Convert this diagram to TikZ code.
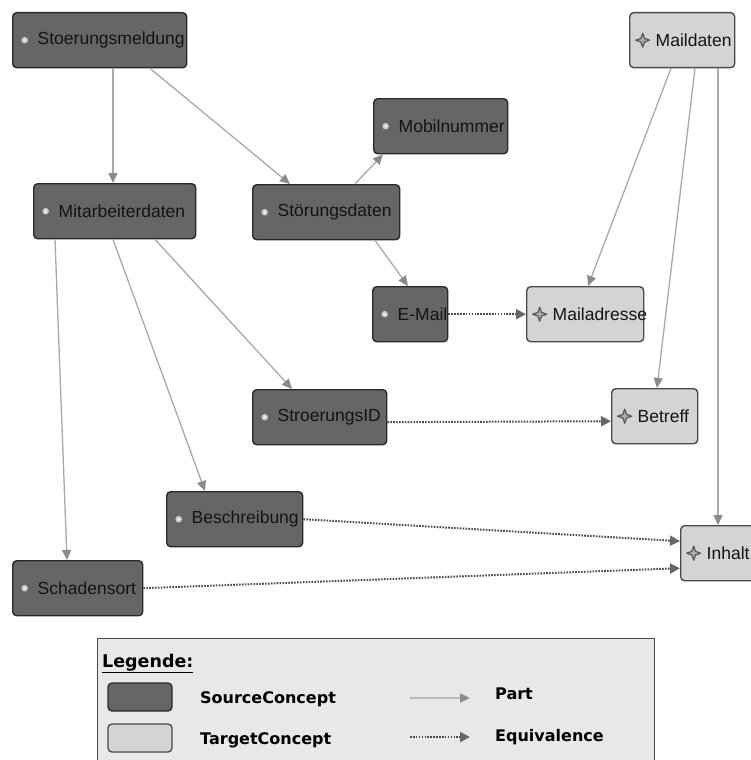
\documentclass[tikz,border=0pt]{standalone}
\usepackage{fontspec}
\setmainfont{Liberation Sans}
\newfontfamily\legendfont{DejaVu Sans}
\usetikzlibrary{arrows.meta,calc}

\definecolor{srcfill}{HTML}{666666}
\definecolor{srcedge}{HTML}{2A2A2A}
\definecolor{tgtfill}{HTML}{D4D4D4}
\definecolor{tgtedge}{HTML}{4A4A4A}
\definecolor{partline}{HTML}{A9A9A9}
\definecolor{parttip}{HTML}{8A8A8A}
\definecolor{equivline}{HTML}{4C4C4C}
\definecolor{legendfill}{HTML}{E8E8E8}
\definecolor{labeltext}{HTML}{141414}

\tikzset{
  concept/.style={anchor=north west, rounded corners=4pt, line width=1.4pt,
    minimum height=55pt, inner xsep=25pt, inner ysep=0pt, align=left,
    font=\fontsize{17.5}{19}\selectfont, text=labeltext},
  source/.style={concept, fill=srcfill, draw=srcedge,
    path picture={
      \fill[white!65!srcfill] ([xshift=12pt]path picture bounding box.west) circle (3.3pt);
      \fill[white!90!srcfill] ([xshift=12pt]path picture bounding box.west) circle (1.6pt);
    }},
  % four-pointed star marking a target concept
  target/.style={concept, fill=tgtfill, draw=tgtedge,
    path picture={
      \coordinate (starc) at ([xshift=13pt]path picture bounding box.west);
      \draw[tgtedge!90!white, line width=1.3pt, line join=round, sharp corners,
            fill=tgtfill!55!gray]
        ([xshift=7pt]starc) -- ([xshift=1.8pt,yshift=1.8pt]starc)
        -- ([yshift=7pt]starc) -- ([xshift=-1.8pt,yshift=1.8pt]starc)
        -- ([xshift=-7pt]starc) -- ([xshift=-1.8pt,yshift=-1.8pt]starc)
        -- ([yshift=-7pt]starc) -- ([xshift=1.8pt,yshift=-1.8pt]starc) -- cycle;
    }},
  part/.style={draw=partline, line width=1.3pt,
    -{Triangle[length=10pt,width=9pt,color=parttip]}},
  equiv/.style={draw=equivline, line width=2pt, dash pattern=on 1.6pt off 1.3pt,
    -{Triangle[length=10pt,width=10pt,color=equivline!85!white]}},
  legendtext/.style={font=\legendfont\bfseries\fontsize{16}{18}\selectfont,
    text=black, inner sep=0pt},
  swatch/.style={rounded corners=4pt, line width=1.3pt,
    minimum width=64pt, minimum height=28pt, inner sep=0pt},
}

\begin{document}
\begin{tikzpicture}[x=1pt, y=-1pt]
  \clip (0,0) rectangle (751,760);
  \fill[white] (0,0) rectangle (751,760);

  % source concepts
  \node[source, text width=124pt] (SM)  at (12,12)   {\mbox{Stoerungsmeldung}};
  \node[source, text width=112pt] (MD)  at (33,183)  {\mbox{Mitarbeiterdaten}};
  \node[source, text width=97pt]  (SD)  at (252,184) {\mbox{Störungsdaten}};
  \node[source, text width=84pt]  (MN)  at (373,98)  {\mbox{Mobilnummer}};
  \node[source, text width=25pt]  (EM)  at (372,286) {\mbox{E-Mail}};
  \node[source, text width=84pt]  (SID) at (252,389) {\mbox{StroerungsID}};
  \node[source, text width=86pt]  (BS)  at (166,491) {\mbox{Beschreibung}};
  \node[source, text width=80pt]  (SO)  at (12,560)  {\mbox{Schadensort}};

  % target concepts
  \node[target, text width=53pt, inner xsep=26pt]  (ML)  at (629,12)  {\mbox{Maildaten}};
  \node[target, text width=65pt, inner xsep=26pt]  (MA)  at (526,286) {\mbox{Mailadresse}};
  \node[target, text width=34pt, inner xsep=26pt]  (BT)  at (611,388) {\mbox{Betreff}};
  \node[target, text width=68pt, inner xsep=26pt]  (IN)  at (680,525) {\mbox{Inhalt}};

  % part relations
  \draw[part] ([xshift=101pt]SM.south west) -- ([xshift=80pt]MD.north west);
  \draw[part] ([xshift=138pt]SM.south west) -- ([xshift=38pt]SD.north west);
  \draw[part] ([xshift=103pt]SD.north west) -- ([xshift=10pt]MN.south west);
  \draw[part] ([xshift=123pt]SD.south west) -- ([xshift=36pt]EM.north west);
  \draw[part] ([xshift=22pt]MD.south west)  -- ([xshift=55pt]SO.north west);
  \draw[part] ([xshift=80pt]MD.south west)  -- ([xshift=39pt]BS.north west);
  \draw[part] ([xshift=122pt]MD.south west) -- ([xshift=40pt]SID.north west);
  \draw[part] ([xshift=42pt]ML.south west)  -- ([xshift=62pt]MA.north west);
  \draw[part] ([xshift=66pt]ML.south west)  -- ([xshift=46pt]BT.north west);
  \draw[part] ([xshift=89pt]ML.south west)  -- ([xshift=38pt]IN.north west);

  % equivalence relations
  \draw[equiv] (EM.east) -- (MA.west);
  \draw[equiv] ([yshift=-5pt]SID.east) -- ([yshift=-5pt]BT.west);
  \draw[equiv] (BS.east) -- ([yshift=12pt]IN.west);
  \draw[equiv] (SO.east) -- ([yshift=-15pt]IN.west);

  % legend
  \node[anchor=north west, fill=legendfill, draw=equivline, line width=1.2pt,
        minimum width=557pt, minimum height=140pt] (legend) at (97,638) {};
  \node[legendtext, anchor=base west, font=\legendfont\bfseries\fontsize{17.5}{19}\selectfont]
        (legtitle) at (102,667) {\underline{Legende:}};
  \node[swatch, fill=srcfill, draw=srcedge] (swsrc) at (140,697) {};
  \node[swatch, fill=tgtfill, draw=tgtedge] (swtgt) at (140,738) {};
  \node[legendtext, anchor=base west] (lsrc) at (200,703) {SourceConcept};
  \node[legendtext, anchor=base west] (ltgt) at (200,744) {TargetConcept};
  \coordinate (partA) at (410,698);
  \coordinate (partB) at (470,698);
  \coordinate (eqA) at (410,737);
  \coordinate (eqB) at (470,737);
  \draw[part, draw=partline!80!white, line width=1.6pt] (partA) -- (partB);
  \draw[equiv] (eqA) -- (eqB);
  \node[legendtext, anchor=base west] (lpart) at (495,699) {Part};
  \node[legendtext, anchor=base west] (lequiv) at (495,741) {Equivalence};
\end{tikzpicture}
\end{document}
